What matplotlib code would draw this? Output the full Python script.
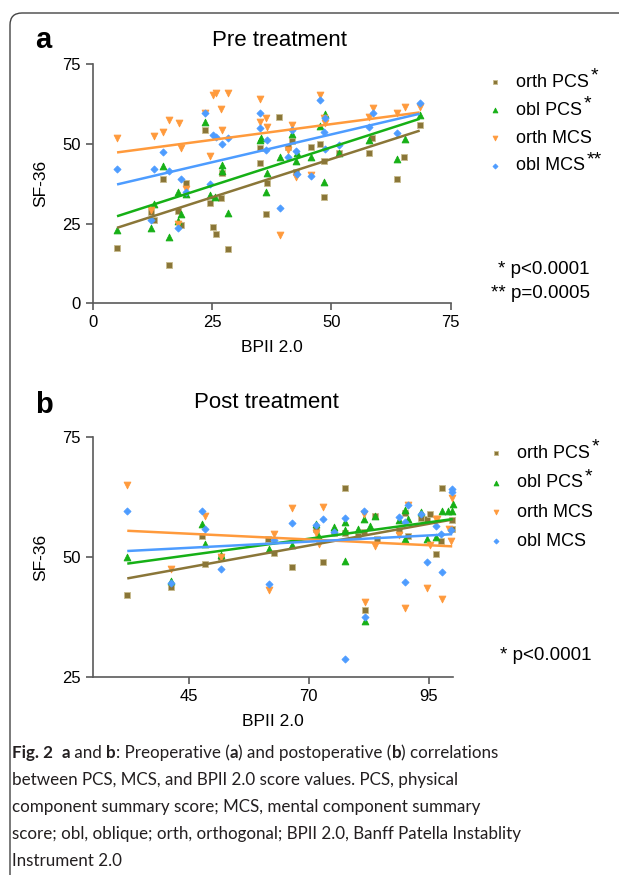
import matplotlib
matplotlib.use('Agg')
import matplotlib.pyplot as plt
import numpy as np
from matplotlib.patches import FancyBboxPatch
from matplotlib.transforms import IdentityTransform

plt.rcParams['font.family'] = ['Liberation Sans', 'DejaVu Sans']

# --- data (BPII 2.0 score, SF-36 score) ---
# pre treatment
pre_orth_pcs_x = [5.1, 12.3, 12.9, 14.7, 16.0, 17.9, 18.6, 19.5, 23.6, 24.5, 25.3, 25.8, 26.9, 27.1, 28.4,
                  35.0, 35.0, 36.4, 36.6, 39.1, 40.9, 41.8, 42.5, 45.7, 47.7, 48.4, 48.4, 51.6, 57.9, 58.6,
                  63.8, 65.2, 68.5]
pre_orth_pcs_y = [17.5, 28.5, 26.2, 38.9, 11.9, 29.1, 24.6, 37.7, 54.4, 31.6, 24.1, 21.7, 33.0, 41.0, 16.9,
                  48.6, 44.1, 28.0, 37.9, 58.4, 49.0, 51.0, 41.3, 49.2, 49.9, 44.5, 33.5, 47.1, 47.3, 51.8,
                  39.0, 46.0, 55.8]
pre_obl_pcs_x = [5.1, 12.3, 12.9, 14.7, 16.0, 17.9, 17.9, 18.6, 19.5, 23.6, 24.5, 25.6, 27.1, 27.1, 28.4,
                 35.0, 35.2, 36.6, 36.4, 39.2, 41.8, 42.5, 42.7, 45.7, 47.7, 48.6, 48.4, 51.6, 57.9, 63.8,
                 65.4, 68.5]
pre_obl_pcs_y = [23.0, 23.5, 31.2, 43.0, 20.7, 34.9, 25.9, 28.0, 34.2, 57.0, 34.0, 33.5, 43.4, 41.6, 28.2,
                 51.3, 51.8, 40.8, 35.0, 45.8, 53.1, 44.5, 47.3, 45.8, 55.7, 59.4, 38.0, 47.3, 51.3, 45.3,
                 51.5, 59.1]
pre_orth_mcs_x = [5.1, 12.3, 12.9, 14.7, 16.0, 17.9, 18.1, 18.5, 19.5, 23.6, 24.5, 25.3, 25.8, 26.9, 27.1,
                  28.4, 35.0, 35.0, 36.4, 36.6, 39.2, 40.9, 41.8, 42.5, 45.7, 47.7, 48.4, 48.6, 57.9, 58.7,
                  63.8, 65.4, 68.5]
pre_orth_mcs_y = [52.0, 29.3, 52.5, 53.7, 57.5, 24.8, 56.7, 48.8, 36.0, 59.6, 46.2, 65.4, 65.9, 61.1, 54.4,
                  65.9, 64.2, 56.9, 58.0, 55.4, 21.4, 48.1, 56.0, 39.7, 40.3, 65.4, 58.1, 56.5, 58.6, 61.2,
                  59.6, 61.5, 61.7]
pre_obl_mcs_x = [5.1, 12.3, 12.9, 14.7, 16.0, 17.9, 18.6, 19.5, 23.6, 24.5, 25.2, 25.8, 27.1, 28.4, 35.0,
                 35.0, 36.6, 36.4, 39.2, 40.9, 41.8, 42.5, 42.7, 45.7, 47.7, 48.4, 48.6, 48.6, 51.6, 57.9,
                 58.7, 63.8, 68.5]
pre_obl_mcs_y = [42.2, 26.0, 42.1, 47.5, 41.6, 23.5, 38.9, 34.9, 59.6, 37.3, 52.8, 52.1, 50.0, 51.8, 59.6,
                 55.1, 51.4, 48.1, 30.0, 46.0, 54.4, 47.9, 40.6, 39.8, 63.8, 53.9, 58.1, 48.3, 49.7, 55.2,
                 59.8, 53.4, 62.8]

# post treatment
post_orth_pcs_x = [32.2, 41.4, 47.8, 48.3, 51.7, 61.6, 62.8, 66.5, 71.5, 73.0, 75.2, 77.5, 77.5, 80.3, 81.5,
                   81.7, 83.8, 84.3, 88.9, 90.1, 90.7, 93.3, 94.7, 95.3, 96.6, 97.6, 97.8, 99.9, 99.9]
post_orth_pcs_y = [42.2, 43.8, 54.4, 48.5, 50.0, 53.8, 50.9, 47.9, 55.9, 49.0, 55.0, 64.4, 54.9, 54.3, 55.1,
                   39.0, 58.5, 53.8, 55.7, 59.2, 54.3, 58.2, 57.8, 59.0, 50.7, 53.3, 64.4, 57.6, 55.9]
post_obl_pcs_x = [32.2, 41.4, 47.8, 48.3, 51.7, 61.7, 66.5, 71.5, 72.0, 75.2, 77.5, 77.6, 77.5, 80.3, 81.5,
                  81.7, 82.7, 83.8, 88.9, 90.0, 90.1, 90.7, 93.3, 94.7, 96.5, 97.8, 99.0, 99.9, 100.0]
post_obl_pcs_y = [50.1, 45.0, 56.9, 52.6, 50.5, 51.6, 52.4, 56.8, 54.5, 56.3, 57.2, 55.7, 49.1, 55.8, 57.8,
                  36.8, 56.4, 58.5, 57.6, 53.7, 59.7, 57.8, 59.4, 53.8, 54.2, 59.6, 59.6, 59.6, 61.1]
post_orth_mcs_x = [32.2, 41.4, 48.3, 51.7, 61.7, 62.8, 66.5, 71.5, 72.2, 73.0, 81.5, 81.7, 83.8, 88.9, 90.0,
                   90.7, 94.7, 95.3, 96.6, 96.7, 97.8, 99.9, 99.6, 99.2]
post_orth_mcs_y = [64.9, 47.6, 58.5, 49.9, 43.2, 54.7, 60.1, 54.9, 52.6, 60.3, 59.0, 40.6, 52.2, 54.5, 39.4,
                   60.9, 43.6, 52.4, 58.0, 58.0, 41.3, 62.2, 53.3, 55.9]
post_obl_mcs_x = [32.2, 41.4, 47.8, 48.3, 51.7, 61.7, 62.8, 66.5, 71.5, 73.0, 75.2, 77.5, 77.6, 81.5, 81.7,
                  88.9, 90.0, 90.1, 90.7, 93.3, 94.7, 96.5, 97.6, 97.8, 99.9, 99.9, 99.6]
post_obl_mcs_y = [59.5, 44.6, 59.5, 55.9, 47.6, 44.4, 53.5, 57.1, 56.6, 57.8, 55.2, 58.2, 28.8, 59.6, 37.5,
                  58.3, 44.8, 57.3, 60.9, 59.0, 49.0, 56.4, 54.7, 46.9, 64.2, 63.5, 55.7]

series_names = ['orth PCS', 'obl PCS', 'orth MCS', 'obl MCS']
pre_stars = ['*', '*', '', '**']
post_stars = ['*', '*', '', '']

# styles
colors = ['#8a7638', '#16b016', '#ff9a3c', '#4d9cff']
edges = ['#c8bc8e', '#16b016', '#ff9a3c', '#4d9cff']
markers = ['s', '^', 'v', 'D']
sizes = [20, 24, 24, 13]
SPINE = '#5a5a5a'

W, H = 619, 875
fig = plt.figure(figsize=(W / 100, H / 100), dpi=100)

# page frame with rounded corner
frame = FancyBboxPatch((10, -30), 700, H - 13 + 30, boxstyle='round,pad=0,rounding_size=12',
                       transform=IdentityTransform(), fill=False, edgecolor='#444444', lw=1.0)
fig.patches.append(frame)


def fx(px):
    return px / W


def fy(py):
    return 1 - py / H


def panel(rect, data, xlim, ylim, xticks, yticks, stars, leg_left, leg_top, spacing):
    ax = fig.add_axes(rect)
    handles = []
    for i, (x, y) in enumerate(data):
        x = np.asarray(x)
        y = np.asarray(y)
        h = ax.scatter(x, y, marker=markers[i], s=sizes[i], color=colors[i], edgecolors=edges[i],
                       linewidths=0.6, clip_on=False, zorder=3)
        handles.append(h)
        k, b = np.polyfit(x, y, 1)
        xs = np.array([x.min(), x.max()])
        ax.plot(xs, k * xs + b, color=colors[i], lw=1.8, zorder=4, solid_capstyle='butt')
    ax.set_xlim(*xlim)
    ax.set_ylim(*ylim)
    ax.set_xticks(xticks)
    ax.set_yticks(yticks)
    for s in ['top', 'right']:
        ax.spines[s].set_visible(False)
    for s in ['left', 'bottom']:
        ax.spines[s].set_color(SPINE)
        ax.spines[s].set_linewidth(1.2)
    ax.tick_params(direction='out', length=5, width=1.2, color=SPINE, labelsize=12, pad=3.5)
    ax.set_xlabel('BPII 2.0', fontsize=12.5, labelpad=7)
    ax.set_ylabel('SF-36', fontsize=12.5, labelpad=10)

    leg = ax.legend(handles, series_names, loc='upper left', bbox_to_anchor=(fx(leg_left), fy(leg_top)),
                    bbox_transform=fig.transFigure, frameon=False, fontsize=13, borderpad=0,
                    borderaxespad=0, handlelength=1.0, handletextpad=0.65, labelspacing=spacing,
                    markerscale=0.7)
    for txt, st in zip(leg.get_texts(), stars):
        if st:
            ax.annotate(st, xy=(1, 1), xycoords=txt, xytext=(1.5, 4.5), textcoords='offset points',
                        ha='left', va='top', fontsize=14)
    return ax


ax_a = panel([fx(92.7), fy(303.3), fx(450.7) - fx(92.7), fy(64.3) - fy(303.3)],
             [(pre_orth_pcs_x, pre_orth_pcs_y), (pre_obl_pcs_x, pre_obl_pcs_y),
              (pre_orth_mcs_x, pre_orth_mcs_y), (pre_obl_mcs_x, pre_obl_mcs_y)],
             (0, 75), (0, 75), [0, 25, 50, 75], [0, 25, 50, 75], pre_stars, 486, 74, 0.6)

ax_b = panel([fx(92.7), fy(677.3), fx(452.7) - fx(92.7), fy(436.7) - fy(677.3)],
             [(post_orth_pcs_x, post_orth_pcs_y), (post_obl_pcs_x, post_obl_pcs_y),
              (post_orth_mcs_x, post_orth_mcs_y), (post_obl_mcs_x, post_obl_mcs_y)],
             (25, 100), (25, 75), [45, 70, 95], [25, 50, 75], post_stars, 487, 445, 0.68)

# panel letters and titles
fig.text(fx(35), fy(48), 'a', fontsize=21, fontweight='bold', va='baseline')
fig.text(fx(280), fy(46), 'Pre treatment', fontsize=16, ha='center', va='baseline')
fig.text(fx(35), fy(413), 'b', fontsize=21, fontweight='bold', va='baseline')
fig.text(fx(266), fy(408), 'Post treatment', fontsize=16, ha='center', va='baseline')

# p-value notes
fig.text(fx(590), fy(274), '* p<0.0001', fontsize=13.5, ha='right', va='baseline')
fig.text(fx(590), fy(298), '** p=0.0005', fontsize=13.5, ha='right', va='baseline')
fig.text(fx(591), fy(660), '* p<0.0001', fontsize=13.5, ha='right', va='baseline')

# caption with mixed bold runs
fig.canvas.draw()
renderer = fig.canvas.get_renderer()
CAP_FONT = ['Lato', 'DejaVu Sans']


def text_w(s, size, weight):
    t = fig.text(0, 0, s, fontsize=size, fontweight=weight, family=CAP_FONT)
    w = t.get_window_extent(renderer).width
    t.remove()
    return w


def run_w(s, size, weight):
    return text_w('|' + s + '|', size, weight) - text_w('||', size, weight)


cap_size = 10 * 445 / text_w('between PCS, MCS, and BPII 2.0 score values. PCS, physical', 10, 'normal')

caption = [
    [('Fig. 2', 'bold'), ('  ', 'normal'), ('a', 'bold'), (' and ', 'normal'), ('b', 'bold'),
     (': Preoperative (', 'normal'), ('a', 'bold'), (') and postoperative (', 'normal'), ('b', 'bold'),
     (') correlations', 'normal')],
    [('between PCS, MCS, and BPII 2.0 score values. PCS, physical', 'normal')],
    [('component summary score; MCS, mental component summary', 'normal')],
    [('score; obl, oblique; orth, orthogonal; BPII 2.0, Banff Patella Instablity', 'normal')],
    [('Instrument 2.0', 'normal')],
]
for li, line in enumerate(caption):
    x = 12
    y = H - (758 + 27 * li)
    for s, wt in line:
        fig.text(x, y, s, fontsize=cap_size, fontweight=wt, family=CAP_FONT, va='baseline',
                 transform=IdentityTransform(), color='#231f20')
        x += run_w(s, cap_size, wt)

fig.savefig('out.png', dpi=100)
